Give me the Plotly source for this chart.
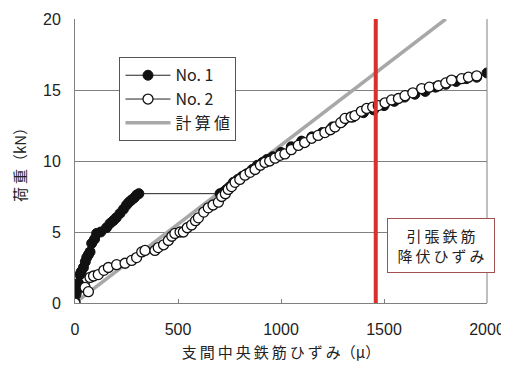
import plotly.graph_objects as go

# No.1 specimen (filled)
no1_x = [0, 5, 8, 12, 17, 24, 30, 41, 50, 57, 65, 73, 81, 95, 105, 125, 153, 170, 186, 200, 218, 235, 250, 262, 274, 287, 299, 310,
         704, 720, 736, 752, 769, 790, 810, 834, 860, 885, 910, 931, 960, 1000, 1050, 1100, 1150, 1200, 1250, 1300, 1350, 1400,
         1450, 1500, 1550, 1600, 1650, 1700, 1750, 1800, 1850, 1900, 1950, 2000]
no1_y = [0.1, 0.6, 0.9, 1.2, 1.4, 2.0, 2.2, 2.5, 2.9, 3.2, 3.4, 3.6, 4.2, 4.5, 4.9, 5.0, 5.3, 5.6, 5.8, 6.0, 6.3, 6.6, 6.9, 7.1, 7.25, 7.4, 7.6, 7.7,
         7.7, 7.8, 8.0, 8.2, 8.5, 8.7, 8.9, 9.1, 9.4, 9.7, 9.9, 10.1, 10.3, 10.6, 11.0, 11.4, 11.7, 12.0, 12.4, 12.8, 13.1, 13.4,
         13.6, 13.9, 14.2, 14.5, 14.7, 14.9, 15.2, 15.4, 15.6, 15.8, 15.9, 16.2]

# No.2 specimen (open)
no2_x = [0, 49, 65, 73, 90, 113, 140, 162, 202, 243, 275, 299, 324, 340, 388, 404, 430, 453, 470, 485, 510, 526, 545, 566, 585, 599, 625,
         647, 670, 696, 712, 730, 744, 760, 777, 800, 825, 850, 874, 900, 922, 945, 971, 995, 1019, 1050, 1084, 1115, 1149, 1180,
         1213, 1240, 1262, 1290, 1311, 1340, 1359, 1390, 1416, 1445, 1472, 1505, 1537, 1570, 1602, 1640, 1683, 1720, 1764, 1800,
         1828, 1877, 1910, 1950]
no2_y = [0.0, 1.1, 0.8, 1.8, 1.9, 2.0, 2.3, 2.5, 2.7, 2.8, 3.0, 3.2, 3.6, 3.7, 3.7, 3.9, 4.1, 4.4, 4.7, 4.9, 5.0, 5.0, 5.3, 5.5, 5.8, 6.0, 6.4,
         6.7, 6.9, 7.1, 7.5, 7.7, 8.0, 8.2, 8.5, 8.7, 9.0, 9.2, 9.4, 9.7, 9.9, 10.0, 10.2, 10.4, 10.5, 10.8, 11.1, 11.3, 11.6, 11.8,
         12.0, 12.2, 12.4, 12.7, 13.0, 13.1, 13.2, 13.5, 13.7, 13.8, 13.9, 14.1, 14.3, 14.4, 14.6, 14.8, 15.1, 15.2, 15.3, 15.5,
         15.7, 15.8, 15.9, 16.0]

# Calculated line
calc_x = [0, 1800]
calc_y = [0, 20]

yield_strain = 1460

x_ticks = [0, 500, 1000, 1500, 2000]
y_ticks = [0, 5, 10, 15, 20]

jp = "Noto Sans CJK JP"
ts = "\u2009"  # thin space for wide letter spacing

def spaced(s):
    return ts.join(list(s))

fig = go.Figure()
fig.add_trace(go.Scatter(x=calc_x, y=calc_y, mode="lines", name=spaced("計算値"), legendrank=3,
                         line=dict(color="#a8a8a8", width=3.5)))
fig.add_trace(go.Scatter(x=no1_x, y=no1_y, mode="lines+markers", name="No. 1", legendrank=1,
                         line=dict(color="#222222", width=1),
                         marker=dict(size=10, color="#111111", line=dict(color="#111111", width=1))))
fig.add_trace(go.Scatter(x=no2_x, y=no2_y, mode="lines+markers", name="No. 2", legendrank=2,
                         line=dict(color="#222222", width=1),
                         marker=dict(size=10, color="white", line=dict(color="#111111", width=1.3))))

fig.add_shape(type="line", x0=yield_strain, x1=yield_strain, y0=0, y1=20, xref="x", yref="y",
              line=dict(color="#d9302c", width=4))
fig.add_shape(type="line", x0=1, x1=1, y0=0, y1=1, xref="paper", yref="paper",
              line=dict(color="#808080", width=1))

fig.add_annotation(text=spaced("引張鉄筋") + "<br>" + spaced("降伏ひずみ"), xref="paper", yref="paper",
                   x=(441 - 75) / 412, y=(303 - 245.5) / 284, xanchor="center", yanchor="middle",
                   showarrow=False,
                   font=dict(family=jp, size=15, color="#222222"),
                   width=98, height=45, align="center",
                   bordercolor="#a05050", borderwidth=1, borderpad=4, bgcolor="white")

# page body has an 8px margin, so the figure is sized/offset to compensate
fig.update_layout(
    width=501, height=354,
    margin=dict(l=67, r=22, t=11, b=59, autoexpand=False),
    paper_bgcolor="white", plot_bgcolor="white",
    showlegend=True,
    legend=dict(x=0.108, y=0.865, xanchor="left", yanchor="top",
                bordercolor="#555555", borderwidth=1, bgcolor="white",
                font=dict(family=jp, size=16, color="#222222"),
                tracegroupgap=0, itemwidth=45),
    font=dict(family="Liberation Sans, Arial", size=16, color="#222222"),
)
fig.update_xaxes(range=[0, 2000], tickvals=x_ticks, ticks="inside", ticklen=4, tickcolor="#808080",
                 showgrid=False, showline=True, linecolor="#808080", linewidth=1, zeroline=False,
                 ticklabelstandoff=12, ticklabeloverflow="allow",
                 title=dict(text=spaced("支間中央鉄筋ひずみ") + "（μ）", font=dict(family=jp, size=15), standoff=11),
                 tickfont=dict(size=16))
fig.update_yaxes(range=[0, 20], tickvals=y_ticks, ticks="inside", ticklen=4, tickcolor="#808080",
                 showgrid=True, gridcolor="#808080", gridwidth=1,
                 showline=True, linecolor="#808080", linewidth=1, zeroline=False,
                 ticklabelstandoff=10,
                 title=dict(text=spaced("荷重") + "（kN）", font=dict(family=jp, size=15), standoff=12),
                 tickfont=dict(size=16))

fig.write_html("out.html")
